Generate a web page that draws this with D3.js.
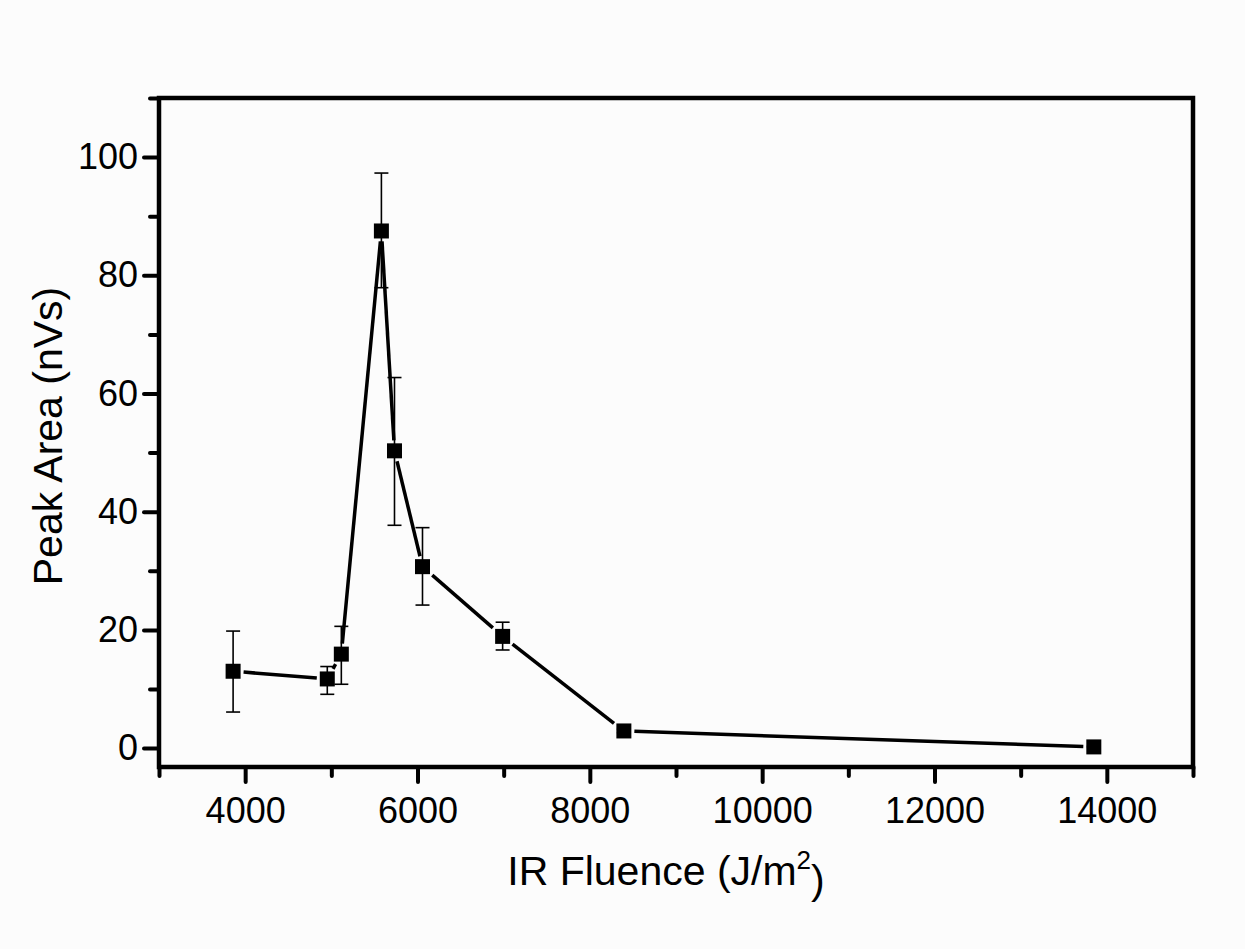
<!DOCTYPE html>
<html lang="en">
<head>
    <meta charset="UTF-8">
    <title>Peak Area vs IR Fluence</title>
    <script src="https://cdnjs.cloudflare.com/ajax/libs/d3/7.8.5/d3.min.js"></script>
    <style>
        body { margin: 0; background: #fcfcfc; }
        text { font-family: "Liberation Sans", Arial, sans-serif; fill: #000; }
    </style>
</head>
<body>
    <div id="wrapper"></div>
    <script>
        // data
        const fluence   = [3860, 4953, 5116, 5581, 5733, 6058, 6988, 8395, 13849]
        const peakArea  = [13.0, 11.7, 15.9, 87.5, 50.3, 30.7, 18.9, 2.9, 0.2]
        const errUpper  = [19.8, 13.8, 20.6, 97.3, 62.7, 37.3, 21.3, 3.2, 0.3]
        const errLower  = [6.1, 9.1, 10.8, 77.9, 37.7, 24.2, 16.6, 2.6, 0.1]
        const xTicks = [4000, 6000, 8000, 10000, 12000, 14000]
        const xMinor = [3000, 5000, 7000, 9000, 11000, 13000, 15000]
        const yTicks = [0, 20, 40, 60, 80, 100]
        const yMinor = [10, 30, 50, 70, 90, 110]

        const dataset = fluence.map((x, i) => ({
            x, y: peakArea[i], hi: errUpper[i], lo: errLower[i]
        }))

        const dimensions = {
            width: 1245,
            height: 949,
            margin: { top: 98, right: 52, bottom: 182, left: 159 }
        }
        dimensions.boundedWidth = dimensions.width - dimensions.margin.left - dimensions.margin.right
        dimensions.boundedHeight = dimensions.height - dimensions.margin.top - dimensions.margin.bottom

        const svg = d3.select('#wrapper')
            .append('svg')
            .attr('width', dimensions.width)
            .attr('height', dimensions.height)

        const bounds = svg.append('g')
            .attr('transform', `translate(${dimensions.margin.left},${dimensions.margin.top})`)

        const xScale = d3.scaleLinear()
            .domain([3000, 15000])
            .range([0, dimensions.boundedWidth])

        const yScale = d3.scaleLinear()
            .domain([-3.2, 110])
            .range([dimensions.boundedHeight, 0])

        // minor ticks
        bounds.append('g')
            .attr('transform', `translate(0,${dimensions.boundedHeight})`)
            .call(d3.axisBottom(xScale).tickValues(xMinor).tickSize(9).tickFormat(''))
        bounds.append('g')
            .call(d3.axisLeft(yScale).tickValues(yMinor).tickSize(9).tickFormat(''))

        // major ticks
        const xAxis = bounds.append('g')
            .attr('transform', `translate(0,${dimensions.boundedHeight})`)
            .call(d3.axisBottom(xScale).tickValues(xTicks).tickSize(15).tickPadding(10)
                .tickFormat(d3.format('d')))
        const yAxis = bounds.append('g')
            .call(d3.axisLeft(yScale).tickValues(yTicks).tickSize(15).tickPadding(6)
                .tickFormat(d3.format('d')))

        bounds.selectAll('.domain').remove()
        bounds.selectAll('.tick line').attr('stroke', '#000').attr('stroke-width', 4)
            .attr('stroke-linecap', 'round')
        xAxis.selectAll('text').style('font-size', '36px').attr('dy', '0.85em')
        yAxis.selectAll('text').style('font-size', '36px')

        // frame
        bounds.append('rect')
            .attr('width', dimensions.boundedWidth)
            .attr('height', dimensions.boundedHeight)
            .attr('fill', 'none')
            .attr('stroke', '#000')
            .attr('stroke-width', 4.5)

        // error bars
        const capW = 7
        const err = bounds.append('g').attr('stroke', '#000').attr('stroke-width', 1.6)
        dataset.forEach(d => {
            const cx = xScale(d.x)
            err.append('line')
                .attr('x1', cx).attr('x2', cx)
                .attr('y1', yScale(d.hi)).attr('y2', yScale(d.lo))
            ;[d.hi, d.lo].forEach(v => {
                err.append('line')
                    .attr('x1', cx - capW).attr('x2', cx + capW)
                    .attr('y1', yScale(v)).attr('y2', yScale(v))
            })
        })

        // connecting line with small gaps at markers
        const half = 7.5, gap = 3
        const lines = bounds.append('g').attr('stroke', '#000').attr('stroke-width', 3.5)
        for (let i = 0; i < dataset.length - 1; i++) {
            const x1 = xScale(dataset[i].x), y1 = yScale(dataset[i].y)
            const x2 = xScale(dataset[i + 1].x), y2 = yScale(dataset[i + 1].y)
            const len = Math.hypot(x2 - x1, y2 - y1)
            const ux = (x2 - x1) / len, uy = (y2 - y1) / len
            const off = half / Math.max(Math.abs(ux), Math.abs(uy)) + gap
            if (len <= 2 * off) continue
            lines.append('line')
                .attr('x1', x1 + ux * off).attr('y1', y1 + uy * off)
                .attr('x2', x2 - ux * off).attr('y2', y2 - uy * off)
        }

        // markers
        bounds.append('g')
            .selectAll('rect')
            .data(dataset)
            .join('rect')
                .attr('x', d => xScale(d.x) - half)
                .attr('y', d => yScale(d.y) - half)
                .attr('width', half * 2)
                .attr('height', half * 2)
                .attr('fill', '#000')

        // axis titles
        const xTitle = svg.append('text')
            .attr('x', 666)
            .attr('y', 885)
            .attr('text-anchor', 'middle')
            .style('font-size', '41px')
        xTitle.append('tspan').text('IR Fluence (J/m')
        xTitle.append('tspan').attr('dy', '-0.6em').style('font-size', '26px').text('2')
        xTitle.append('tspan').attr('dy', '0.6em').text(')')

        svg.append('text')
            .attr('transform', `translate(62,436) rotate(-90)`)
            .attr('text-anchor', 'middle')
            .style('font-size', '41px')
            .text('Peak Area (nVs)')
    </script>
</body>
</html>
